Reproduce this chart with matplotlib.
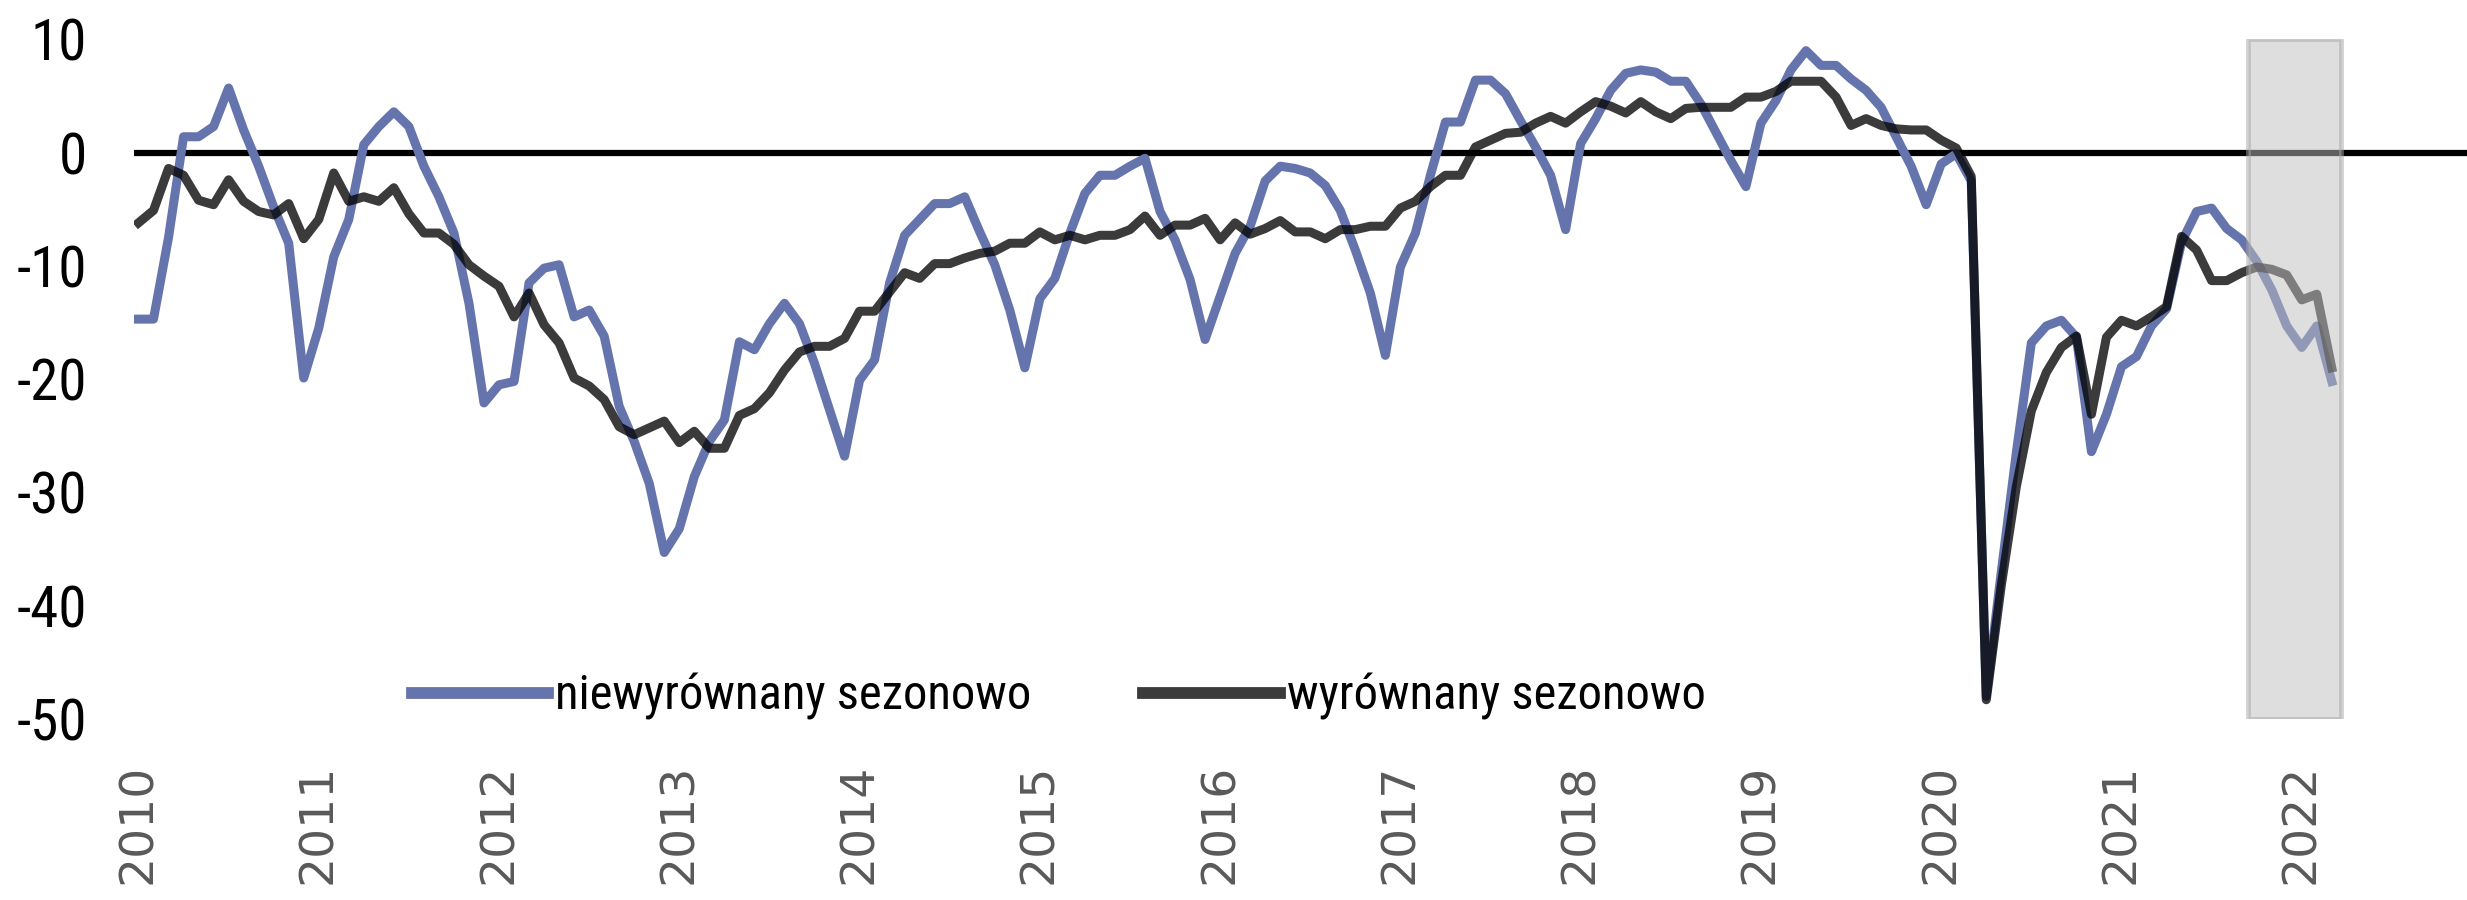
import numpy as np
import matplotlib
matplotlib.use("Agg")
import matplotlib.pyplot as plt
from matplotlib import font_manager
from matplotlib.font_manager import FontProperties

# monthly values, Jan 2010 - Mar 2022
years = list(range(2010, 2023))
unadjusted = [
    -14.7, -14.7, -7.5, 1.4, 1.4, 2.3, 5.7, 2.0, -1.2, -4.8, -8.0, -19.9,      # 2010
    -15.5, -9.2, -5.9, 0.7, 2.3, 3.6, 2.3, -1.2, -3.9, -7.1, -13.3, -22.1,     # 2011
    -20.5, -20.2, -11.5, -10.2, -9.9, -14.5, -13.9, -16.2, -22.4, -25.5, -29.2, -35.3,  # 2012
    -33.2, -28.6, -25.5, -23.6, -16.7, -17.4, -15.1, -13.3, -15.1, -18.6, -22.7, -26.8,  # 2013
    -20.1, -18.3, -11.5, -7.3, -5.9, -4.5, -4.5, -3.9, -7.0, -9.9, -13.9, -19.0,  # 2014
    -12.9, -11.1, -7.1, -3.6, -2.0, -2.0, -1.2, -0.5, -5.2, -7.7, -11.2, -16.5,   # 2015
    -12.7, -8.9, -6.5, -2.5, -1.2, -1.4, -1.8, -2.9, -5.1, -8.6, -12.4, -17.9,   # 2016
    -10.1, -7.1, -2.0, 2.7, 2.7, 6.4, 6.4, 5.2, 2.8, 0.5, -2.0, -6.8,           # 2017
    0.8, 3.0, 5.5, 7.0, 7.3, 7.1, 6.3, 6.3, 4.3, 1.8, -0.7, -3.0,               # 2018
    2.6, 4.6, 7.3, 9.0, 7.7, 7.7, 6.5, 5.5, 4.0, 1.4, -1.2, -4.6,               # 2019
    -1.0, -0.1, -2.5, -48.0, -37.0, -26.5, -16.8, -15.3, -14.8, -16.3, -26.4, -23.1,  # 2020
    -18.9, -18.0, -15.3, -13.8, -7.9, -5.2, -4.9, -6.7, -7.7, -9.6, -12.1, -15.3,  # 2021
    -17.2, -15.3, -20.2,                                                       # 2022
]
adjusted = [
    -6.2, -5.1, -1.4, -2.0, -4.2, -4.6, -2.4, -4.3, -5.2, -5.5, -4.5, -7.6,
    -5.9, -1.8, -4.3, -3.9, -4.3, -3.1, -5.4, -7.1, -7.1, -8.1, -9.9, -10.9,
    -11.8, -14.5, -12.4, -15.2, -16.8, -19.9, -20.6, -21.8, -24.2, -24.9, -24.3, -23.7,
    -25.6, -24.6, -26.1, -26.1, -23.2, -22.6, -21.2, -19.2, -17.6, -17.1, -17.1, -16.4,
    -14.0, -14.0, -12.3, -10.6, -11.1, -9.8, -9.8, -9.3, -8.9, -8.7, -8.0, -8.0,
    -7.0, -7.7, -7.3, -7.7, -7.3, -7.3, -6.8, -5.6, -7.3, -6.4, -6.4, -5.8,
    -7.7, -6.2, -7.2, -6.7, -6.0, -7.0, -7.0, -7.6, -6.8, -6.8, -6.5, -6.5,
    -4.9, -4.3, -3.0, -2.0, -2.0, 0.5, 1.1, 1.7, 1.8, 2.6, 3.2, 2.6,
    3.6, 4.5, 4.1, 3.5, 4.5, 3.6, 3.0, 3.9, 4.0, 4.0, 4.0, 4.9,
    4.9, 5.4, 6.3, 6.3, 6.3, 4.9, 2.4, 3.0, 2.4, 2.1, 2.0, 2.0,
    1.1, 0.4, -2.1, -48.3, -38.2, -29.5, -22.8, -19.4, -17.2, -16.2, -23.1, -16.3,
    -14.8, -15.3, -14.5, -13.6, -7.4, -8.6, -11.3, -11.3, -10.6, -10.1, -10.3, -10.8,
    -13.0, -12.5, -19.0,
]
y_ticks = [10, 0, -10, -20, -30, -40, -50]
series_labels = ["niewyrównany sezonowo", "wyrównany sezonowo"]
highlight = (140.4, 146.6)  # shaded months (Sep 2021 - Mar 2022), in months from Jan 2010


def first_font(names):
    for name in names:
        try:
            font_manager.findfont(FontProperties(family=name), fallback_to_default=False)
            return name
        except ValueError:
            pass
    return "DejaVu Sans"


narrow = first_font(["Liberation Sans Narrow", "Roboto Condensed", "Open Sans Condensed", "DejaVu Sans"])

x = np.arange(len(unadjusted))

fig = plt.figure(figsize=(24.67, 9.0), dpi=100)
ax = fig.add_axes([0.0543, 0.2011, 0.9457, 0.7552])

ax.axhline(0, color="black", lw=4.5, zorder=1)
ax.plot(x, unadjusted, color="#6574ad", lw=6.5, label=series_labels[0], zorder=2)
ax.plot(x, adjusted, color="black", alpha=0.77, lw=6.5, label=series_labels[1], zorder=3)
ax.axvspan(*highlight, facecolor="#bfbfbf", edgecolor="#a6a6a6", alpha=0.5, lw=3.5, zorder=4)

ax.set_xlim(-0.3, 155)
ax.set_ylim(-50, 10)
ax.set_xticks(x[::12])
ax.set_xticklabels([str(y) for y in years], rotation=90, fontsize=34,
                   color="#595959", family="DejaVu Sans")
ax.set_yticks(y_ticks)
ax.set_yticklabels([str(v) for v in y_ticks], fontsize=41, family=narrow)
ax.tick_params(axis="y", length=0, pad=34)
ax.tick_params(axis="x", length=0, pad=32)
for s in ax.spines.values():
    s.set_visible(False)

leg = ax.legend(loc="center left", bbox_to_anchor=(0.167, 0.2256), bbox_transform=fig.transFigure,
                ncol=2, frameon=False, handlelength=2.8, handletextpad=0.15, columnspacing=2.3,
                borderpad=0, borderaxespad=0, prop={"family": narrow, "size": 35})
for h in leg.legend_handles:
    h.set_linewidth(8.5)

fig.savefig("out.png", dpi=100)
